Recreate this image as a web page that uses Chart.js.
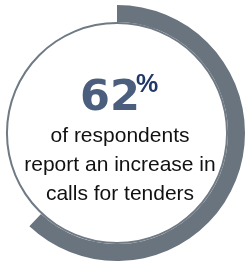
<!DOCTYPE html>
<html>
<head>
<meta charset="utf-8">
<script src="https://cdn.jsdelivr.net/npm/chart.js@4"></script>
<style>
  html,body{margin:0;padding:0;background:#fff;overflow:hidden;}
  body{width:247px;height:266px;position:relative;}
  #wrap{position:absolute;left:-11px;top:5px;width:256px;height:256px;}
  .big{position:absolute;left:80px;top:74px;font:bold 43px/43px "DejaVu Sans",sans-serif;color:#4b5e7e;white-space:nowrap;}
  .pct{position:absolute;left:136px;top:71px;font:bold 25px/25px "Liberation Sans",Arial,sans-serif;color:#1f3867;white-space:nowrap;}
  .sub{position:absolute;left:0;top:120px;width:240px;text-align:center;font:21px/29px "Liberation Sans",Arial,sans-serif;color:#111;}
</style>
</head>
<body>
<div id="wrap"><canvas id="c" width="256" height="256"></canvas></div>
<div class="big">62</div>
<div class="pct">%</div>
<div class="sub">of respondents<br>report an increase in<br>calls for tenders</div>
<script>
// share of respondents (percent)
const labels = ["Increase", "Other"];
const shareValues = [62, 38];
const outlineValues = [100];

new Chart(document.getElementById('c').getContext('2d'), {
  type: 'doughnut',
  data: {
    labels: labels,
    datasets: [
      {data: shareValues, backgroundColor: ['#69747e', 'rgba(0,0,0,0)'], borderWidth: 0, weight: 17},
      {data: outlineValues, backgroundColor: ['#6f7a84'], borderWidth: 0, weight: 2}
    ]
  },
  options: {
    responsive: false,
    animation: false,
    cutout: '85.2%',
    layout: {padding: 0},
    plugins: {legend: {display: false}, tooltip: {enabled: false}}
  }
});
</script>
</body>
</html>
